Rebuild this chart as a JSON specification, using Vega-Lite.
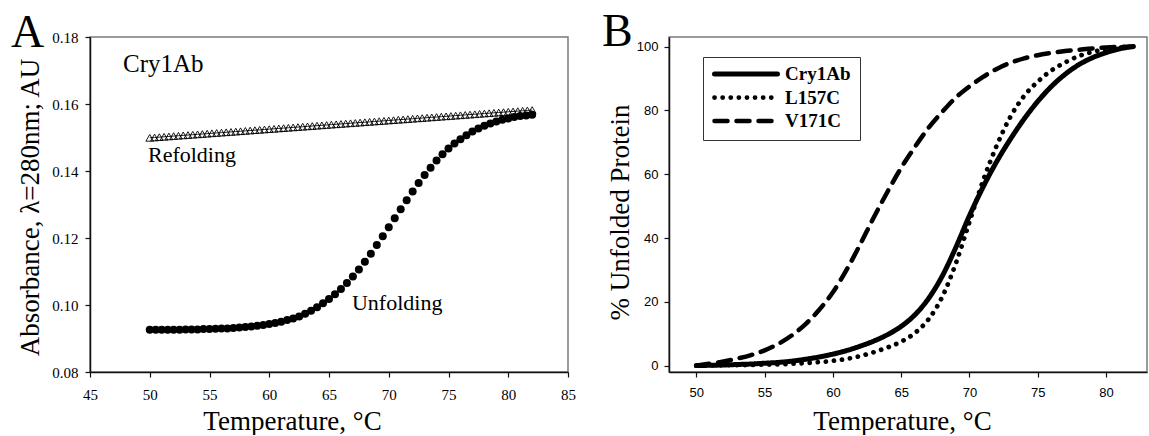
{
  "$schema": "https://vega.github.io/schema/vega-lite/v6.json",
  "background": "white",
  "padding": {"left": 10, "top": 8, "right": 0, "bottom": 0},
  "bounds": "flush",
  "spacing": 101,
  "datasets": {
    "refolding": [
      {"T":50,"A":0.1499},{"T":50.4,"A":0.15},{"T":50.8,"A":0.15011},{"T":51.2,"A":0.15021},{"T":51.6,"A":0.15031},{"T":52,"A":0.15042},{"T":52.4,"A":0.15052},{"T":52.8,"A":0.15063},{"T":53.2,"A":0.15073},{"T":53.6,"A":0.15083},{"T":54,"A":0.15094},{"T":54.4,"A":0.15104},{"T":54.8,"A":0.15114},{"T":55.2,"A":0.15125},{"T":55.6,"A":0.15135},{"T":56,"A":0.15145},{"T":56.4,"A":0.15156},{"T":56.8,"A":0.15166},{"T":57.2,"A":0.15176},{"T":57.6,"A":0.15187},{"T":58,"A":0.15197},{"T":58.4,"A":0.15208},{"T":58.8,"A":0.15218},{"T":59.2,"A":0.15228},{"T":59.6,"A":0.15239},{"T":60,"A":0.15249},{"T":60.4,"A":0.15259},{"T":60.8,"A":0.1527},{"T":61.2,"A":0.1528},{"T":61.6,"A":0.1529},{"T":62,"A":0.15301},{"T":62.4,"A":0.15311},{"T":62.8,"A":0.15321},{"T":63.2,"A":0.15332},{"T":63.6,"A":0.15342},{"T":64,"A":0.15353},{"T":64.4,"A":0.15363},{"T":64.8,"A":0.15373},{"T":65.2,"A":0.15384},{"T":65.6,"A":0.15394},{"T":66,"A":0.15404},{"T":66.4,"A":0.15415},{"T":66.8,"A":0.15425},{"T":67.2,"A":0.15435},{"T":67.6,"A":0.15446},{"T":68,"A":0.15456},{"T":68.4,"A":0.15466},{"T":68.8,"A":0.15477},{"T":69.2,"A":0.15487},{"T":69.6,"A":0.15497},{"T":70,"A":0.15508},{"T":70.4,"A":0.15518},{"T":70.8,"A":0.15529},{"T":71.2,"A":0.15539},{"T":71.6,"A":0.15549},{"T":72,"A":0.1556},{"T":72.4,"A":0.1557},{"T":72.8,"A":0.1558},{"T":73.2,"A":0.15591},{"T":73.6,"A":0.15601},{"T":74,"A":0.15611},{"T":74.4,"A":0.15622},{"T":74.8,"A":0.15632},{"T":75.2,"A":0.15642},{"T":75.6,"A":0.15653},{"T":76,"A":0.15663},{"T":76.4,"A":0.15674},{"T":76.8,"A":0.15684},{"T":77.2,"A":0.15694},{"T":77.6,"A":0.15705},{"T":78,"A":0.15715},{"T":78.4,"A":0.15725},{"T":78.8,"A":0.15736},{"T":79.2,"A":0.15746},{"T":79.6,"A":0.15756},{"T":80,"A":0.15767},{"T":80.4,"A":0.15777},{"T":80.8,"A":0.15787},{"T":81.2,"A":0.15798},{"T":81.6,"A":0.15808},{"T":82,"A":0.15818}
    ],
    "unfolding": [
      {"T":50,"A":0.0926},{"T":50.5,"A":0.0926},{"T":51,"A":0.0926},{"T":51.5,"A":0.0926},{"T":52,"A":0.0926},{"T":52.5,"A":0.0926},{"T":53,"A":0.0927},{"T":53.5,"A":0.0927},{"T":54,"A":0.0927},{"T":54.5,"A":0.0928},{"T":55,"A":0.0928},{"T":55.5,"A":0.0929},{"T":56,"A":0.093},{"T":56.5,"A":0.093},{"T":57,"A":0.0931},{"T":57.5,"A":0.0933},{"T":58,"A":0.0934},{"T":58.5,"A":0.0936},{"T":59,"A":0.0938},{"T":59.5,"A":0.094},{"T":60,"A":0.0943},{"T":60.5,"A":0.0946},{"T":61,"A":0.095},{"T":61.5,"A":0.0955},{"T":62,"A":0.096},{"T":62.5,"A":0.0966},{"T":63,"A":0.0974},{"T":63.5,"A":0.0983},{"T":64,"A":0.0993},{"T":64.5,"A":0.1005},{"T":65,"A":0.1018},{"T":65.5,"A":0.1032},{"T":66,"A":0.1048},{"T":66.5,"A":0.1066},{"T":67,"A":0.1085},{"T":67.5,"A":0.1106},{"T":68,"A":0.1129},{"T":68.5,"A":0.1153},{"T":69,"A":0.1179},{"T":69.5,"A":0.1205},{"T":70,"A":0.1232},{"T":70.5,"A":0.1259},{"T":71,"A":0.1286},{"T":71.5,"A":0.1313},{"T":72,"A":0.1339},{"T":72.5,"A":0.1364},{"T":73,"A":0.1388},{"T":73.5,"A":0.141},{"T":74,"A":0.1431},{"T":74.5,"A":0.145},{"T":75,"A":0.1467},{"T":75.5,"A":0.1482},{"T":76,"A":0.1495},{"T":76.5,"A":0.1507},{"T":77,"A":0.1518},{"T":77.5,"A":0.1527},{"T":78,"A":0.1535},{"T":78.5,"A":0.1542},{"T":79,"A":0.1548},{"T":79.5,"A":0.1553},{"T":80,"A":0.1557},{"T":80.5,"A":0.1561},{"T":81,"A":0.1564},{"T":81.5,"A":0.1566},{"T":82,"A":0.1568}
    ],
    "panelA": [{"T":38.39,"A":0.17701,"label":"A"}],
    "panelB": [{"T":43.09,"P":100.18,"label":"B"}],
    "bigLabel": [{"T":47.76,"A":0.1696,"label":"Cry1Ab"}],
    "curveLabels": [{"T":49.85,"A":0.1427,"label":"Refolding"},{"T":66.92,"A":0.0985,"label":"Unfolding"}],
    "curves": [
      {"T":50,"S":"Cry1Ab","P":0},{"T":51,"S":"Cry1Ab","P":0.1},{"T":52,"S":"Cry1Ab","P":0.2},{"T":53,"S":"Cry1Ab","P":0.35},{"T":54,"S":"Cry1Ab","P":0.5},{"T":55,"S":"Cry1Ab","P":0.75},{"T":56,"S":"Cry1Ab","P":1.0},{"T":57,"S":"Cry1Ab","P":1.4},{"T":58,"S":"Cry1Ab","P":2.0},{"T":59,"S":"Cry1Ab","P":2.7},{"T":60,"S":"Cry1Ab","P":3.6},{"T":61,"S":"Cry1Ab","P":4.7},{"T":62,"S":"Cry1Ab","P":6.1},{"T":63,"S":"Cry1Ab","P":7.7},{"T":64,"S":"Cry1Ab","P":9.7},{"T":65,"S":"Cry1Ab","P":12.3},{"T":66,"S":"Cry1Ab","P":15.9},{"T":67,"S":"Cry1Ab","P":21},{"T":68,"S":"Cry1Ab","P":28},{"T":69,"S":"Cry1Ab","P":37},{"T":70,"S":"Cry1Ab","P":47},{"T":71,"S":"Cry1Ab","P":56},{"T":72,"S":"Cry1Ab","P":64},{"T":73,"S":"Cry1Ab","P":71},{"T":74,"S":"Cry1Ab","P":77.3},{"T":75,"S":"Cry1Ab","P":82.8},{"T":76,"S":"Cry1Ab","P":87.5},{"T":77,"S":"Cry1Ab","P":91.3},{"T":78,"S":"Cry1Ab","P":94.3},{"T":79,"S":"Cry1Ab","P":96.5},{"T":80,"S":"Cry1Ab","P":98.1},{"T":81,"S":"Cry1Ab","P":99.3},{"T":82,"S":"Cry1Ab","P":100},
      {"T":50,"S":"L157C","P":0},{"T":51,"S":"L157C","P":0.05},{"T":52,"S":"L157C","P":0.1},{"T":53,"S":"L157C","P":0.15},{"T":54,"S":"L157C","P":0.2},{"T":55,"S":"L157C","P":0.3},{"T":56,"S":"L157C","P":0.4},{"T":57,"S":"L157C","P":0.6},{"T":58,"S":"L157C","P":0.8},{"T":59,"S":"L157C","P":1.1},{"T":60,"S":"L157C","P":1.5},{"T":61,"S":"L157C","P":2.1},{"T":62,"S":"L157C","P":3.0},{"T":63,"S":"L157C","P":4.2},{"T":64,"S":"L157C","P":5.7},{"T":65,"S":"L157C","P":7.5},{"T":66,"S":"L157C","P":10.2},{"T":67,"S":"L157C","P":14.5},{"T":68,"S":"L157C","P":21.5},{"T":69,"S":"L157C","P":32},{"T":70,"S":"L157C","P":45},{"T":71,"S":"L157C","P":58},{"T":72,"S":"L157C","P":69},{"T":73,"S":"L157C","P":78},{"T":74,"S":"L157C","P":84.5},{"T":75,"S":"L157C","P":89},{"T":76,"S":"L157C","P":92.5},{"T":77,"S":"L157C","P":95},{"T":78,"S":"L157C","P":97},{"T":79,"S":"L157C","P":98.3},{"T":80,"S":"L157C","P":99.2},{"T":81,"S":"L157C","P":99.7},{"T":82,"S":"L157C","P":100},
      {"T":50,"S":"V171C","P":0},{"T":51,"S":"V171C","P":0.6},{"T":52,"S":"V171C","P":1.3},{"T":53,"S":"V171C","P":2.2},{"T":54,"S":"V171C","P":3.3},{"T":55,"S":"V171C","P":4.8},{"T":56,"S":"V171C","P":6.8},{"T":57,"S":"V171C","P":9.5},{"T":58,"S":"V171C","P":13},{"T":59,"S":"V171C","P":17.5},{"T":60,"S":"V171C","P":23},{"T":61,"S":"V171C","P":30},{"T":62,"S":"V171C","P":38},{"T":63,"S":"V171C","P":46.5},{"T":64,"S":"V171C","P":54.5},{"T":65,"S":"V171C","P":62},{"T":66,"S":"V171C","P":68.5},{"T":67,"S":"V171C","P":74.5},{"T":68,"S":"V171C","P":79.5},{"T":69,"S":"V171C","P":84},{"T":70,"S":"V171C","P":87.5},{"T":71,"S":"V171C","P":90.5},{"T":72,"S":"V171C","P":93},{"T":73,"S":"V171C","P":94.9},{"T":74,"S":"V171C","P":96.3},{"T":75,"S":"V171C","P":97.3},{"T":76,"S":"V171C","P":98},{"T":77,"S":"V171C","P":98.6},{"T":78,"S":"V171C","P":99},{"T":79,"S":"V171C","P":99.4},{"T":80,"S":"V171C","P":99.7},{"T":81,"S":"V171C","P":99.9},{"T":82,"S":"V171C","P":100}
    ]
  },
  "hconcat": [
    {
      "width": 478,
      "height": 335,
      "encoding": {
        "x": {"field": "T", "type": "quantitative", "scale": {"domain": [45, 85], "nice": false, "zero": false},
          "axis": {"values": [45,50,55,60,65,70,75,80,85], "format": "d", "title": "Temperature, °C", "labelFont": "Liberation Serif", "labelFontSize": 15, "labelPadding": 10, "titleX": 202, "titleY": 57, "titleAlign": "center", "titleBaseline": "alphabetic"}},
        "y": {"field": "A", "type": "quantitative", "scale": {"domain": [0.08, 0.18], "nice": false, "zero": false},
          "axis": {"values": [0.08,0.1,0.12,0.14,0.16,0.18], "format": ".2f", "title": "Absorbance, λ=280nm; AU", "labelFont": "Liberation Serif", "labelFontSize": 15, "labelPadding": 7, "titleX": -52, "titleY": 170, "titleAngle": -90, "titleAlign": "center", "titleBaseline": "alphabetic"}}
      },
      "layer": [
        {"data": {"name": "refolding"}, "mark": {"type": "line", "color": "#222", "strokeWidth": 1}},
        {"data": {"name": "refolding"}, "mark": {"type": "point", "shape": "triangle-up", "filled": false, "stroke": "black", "strokeWidth": 0.9, "size": 60, "opacity": 1}},
        {"data": {"name": "unfolding"}, "mark": {"type": "circle", "color": "black", "size": 64, "opacity": 1}},
        {"data": {"name": "bigLabel"}, "mark": {"type": "text", "font": "Liberation Serif", "fontSize": 25, "align": "left", "baseline": "alphabetic", "color": "black"}, "encoding": {"text": {"field": "label"}}},
        {"data": {"name": "curveLabels"}, "mark": {"type": "text", "font": "Liberation Serif", "fontSize": 22, "align": "left", "baseline": "alphabetic", "color": "black"}, "encoding": {"text": {"field": "label"}}},
        {"data": {"name": "panelA"}, "mark": {"type": "text", "font": "Liberation Serif", "fontSize": 46, "align": "left", "baseline": "alphabetic", "color": "black", "clip": false}, "encoding": {"text": {"field": "label"}}}
      ]
    },
    {
      "width": 478,
      "height": 335,
      "encoding": {
        "x": {"field": "T", "type": "quantitative", "scale": {"domain": [48, 83], "nice": false, "zero": false},
          "axis": {"values": [50,55,60,65,70,75,80], "format": "d", "title": "Temperature, °C", "labelFont": "Liberation Sans", "labelFontSize": 13, "labelPadding": 9, "titleX": 233, "titleY": 57, "titleAlign": "center", "titleBaseline": "alphabetic"}},
        "y": {"field": "P", "type": "quantitative", "scale": {"domain": [-2, 103], "nice": false, "zero": false},
          "axis": {"values": [0,20,40,60,80,100], "format": "d", "title": "% Unfolded Protein", "labelFont": "Liberation Sans", "labelFontSize": 13, "labelPadding": 6, "titleX": -41, "titleY": 175, "titleAngle": -90, "titleAlign": "center", "titleBaseline": "alphabetic"}}
      },
      "layer": [
        {
          "data": {"name": "curves"},
          "mark": {"type": "line", "color": "black", "strokeCap": "round", "interpolate": "monotone"},
          "encoding": {
            "strokeDash": {"field": "S", "type": "nominal", "scale": {"domain": ["Cry1Ab", "L157C", "V171C"], "range": [[1, 0], [0.1, 8], [13, 9]]},
              "legend": {"orient": "none", "legendX": 613, "legendY": 20, "title": null, "symbolType": "stroke", "symbolSize": 3969, "clipHeight": 16, "symbolStrokeColor": "black", "labelFont": "Liberation Serif", "labelFontWeight": "bold", "labelFontSize": 19, "labelColor": "black", "labelOffset": 5, "rowPadding": 4.5, "padding": 9, "strokeColor": "#333", "fillColor": "white", "encode": {"symbols": {"update": {"strokeCap": {"value": "round"}}}}}},
            "strokeWidth": {"field": "S", "type": "nominal", "scale": {"domain": ["Cry1Ab", "L157C", "V171C"], "range": [5, 4.5, 2.5]},
              "legend": {"orient": "none", "legendX": 613, "legendY": 20, "title": null, "symbolType": "stroke", "symbolSize": 3969, "clipHeight": 16, "symbolStrokeColor": "black", "labelFont": "Liberation Serif", "labelFontWeight": "bold", "labelFontSize": 19, "labelColor": "black", "labelOffset": 5, "rowPadding": 4.5, "padding": 9, "strokeColor": "#333", "fillColor": "white", "encode": {"symbols": {"update": {"strokeCap": {"value": "round"}}}}}}
          }
        },
        {"data": {"name": "panelB"}, "mark": {"type": "text", "font": "Liberation Serif", "fontSize": 46, "align": "left", "baseline": "alphabetic", "color": "black", "clip": false}, "encoding": {"text": {"field": "label"}}}
      ]
    }
  ],
  "config": {
    "view": {"stroke": "#7a7a7a", "strokeWidth": 1.5},
    "axis": {"grid": false, "domainColor": "#111", "domainWidth": 1.5, "tickColor": "#111", "tickWidth": 1.2, "tickSize": 5, "labelColor": "black", "titleColor": "black", "titleFont": "Liberation Serif", "titleFontSize": 27, "titleFontWeight": "normal", "labelFlush": false, "labelOverlap": false, "labelBound": false}
  }
}
